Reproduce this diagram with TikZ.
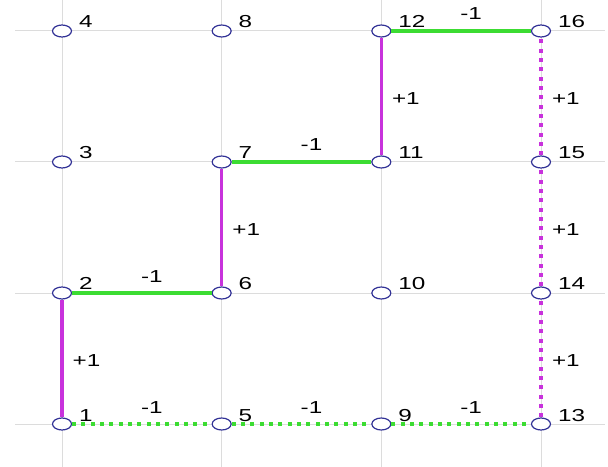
\documentclass[tikz,border=0pt]{standalone}
\usepackage{fontspec}
\setmainfont[FakeStretch=1.4]{Liberation Sans}
\usetikzlibrary{positioning,shapes.geometric}
\definecolor{pathgreen}{RGB}{60,220,50}
\definecolor{pathmag}{RGB}{200,50,220}
\definecolor{ringblue}{RGB}{50,50,150}
\definecolor{gridgray}{RGB}{220,220,220}

\begin{document}
\begin{tikzpicture}[
x=0.75pt,y=-0.75pt,
node distance=98.25pt and 119.75pt,
on grid,
vtx/.style={ellipse,draw=ringblue,line width=0.9pt,fill=white,minimum width=14.25pt,minimum height=9pt,inner sep=0pt},
num/.style={anchor=base west,inner sep=0pt,font=\fontsize{13}{15}\selectfont,xshift=5pt,yshift=2.25pt},
gridln/.style={gridgray,line width=0.75pt},
gline/.style={pathgreen,line width=2.5pt},
mline/.style={pathmag,line width=2.5pt},
gdots/.style={pathgreen,line width=3pt,dash pattern=on 3pt off 4pt},
mdots/.style={pathmag,line width=3pt,dash pattern=on 3pt off 4pt},
mlbl/.style={anchor=base,inner sep=0pt,text=black,font=\fontsize{13}{15}\selectfont,xshift=7.5pt,yshift=8.25pt},
plbl/.style={anchor=west,inner sep=0pt,text=black,font=\fontsize{13}{15}\selectfont,xshift=6.75pt,yshift=-1.5pt}
]
\useasboundingbox (0,0) rectangle (608,467);
% grid
\draw[gridln] (15,31) -- (605,31);
\draw[gridln] (15,162) -- (605,162);
\draw[gridln] (15,293) -- (605,293);
\draw[gridln] (15,424) -- (605,424);
\draw[gridln] (62,0) -- (62,467);
\draw[gridln] (221.67,0) -- (221.67,467);
\draw[gridln] (381.33,0) -- (381.33,467);
\draw[gridln] (541,0) -- (541,467);

% vertices
\node[vtx,label={[num]0:1}] (n1) at (62,424) {};
\node[vtx,label={[num]0:2}] (n2) [above=of n1] {};
\node[vtx,label={[num]0:3}] (n3) [above=of n2] {};
\node[vtx,label={[num]0:4}] (n4) [above=of n3] {};
\node[vtx,label={[num]0:5}] (n5) [right=of n1] {};
\node[vtx,label={[num]0:6}] (n6) [above=of n5] {};
\node[vtx,label={[num]0:7}] (n7) [above=of n6] {};
\node[vtx,label={[num]0:8}] (n8) [above=of n7] {};
\node[vtx,label={[num]0:9}] (n9) [right=of n5] {};
\node[vtx,label={[num]0:10}] (n10) [above=of n9] {};
\node[vtx,label={[num]0:11}] (n11) [above=of n10] {};
\node[vtx,label={[num]0:12}] (n12) [above=of n11] {};
\node[vtx,label={[num]0:13}] (n13) [right=of n9] {};
\node[vtx,label={[num]0:14}] (n14) [above=of n13] {};
\node[vtx,label={[num]0:15}] (n15) [above=of n14] {};
\node[vtx,label={[num]0:16}] (n16) [above=of n15] {};

% staircase path
\draw[mline] (n1) -- node[plbl] {+1} (n2);
\draw[gline] (n2) -- node[mlbl] {-1} (n6);
\draw[mline] (n6) -- node[plbl] {+1} (n7);
\draw[gline] (n7) -- node[mlbl] {-1} (n11);
\draw[mline] (n11) -- node[plbl] {+1} (n12);
\draw[gline] (n12) -- node[mlbl] {-1} (n16);

% boundary path
\draw[gdots] (n1) -- node[mlbl] {-1} (n5);
\draw[gdots] (n5) -- node[mlbl] {-1} (n9);
\draw[gdots] (n9) -- node[mlbl] {-1} (n13);
\draw[mdots] (n13) -- node[plbl] {+1} (n14);
\draw[mdots] (n14) -- node[plbl] {+1} (n15);
\draw[mdots] (n15) -- node[plbl] {+1} (n16);
\end{tikzpicture}
\end{document}
